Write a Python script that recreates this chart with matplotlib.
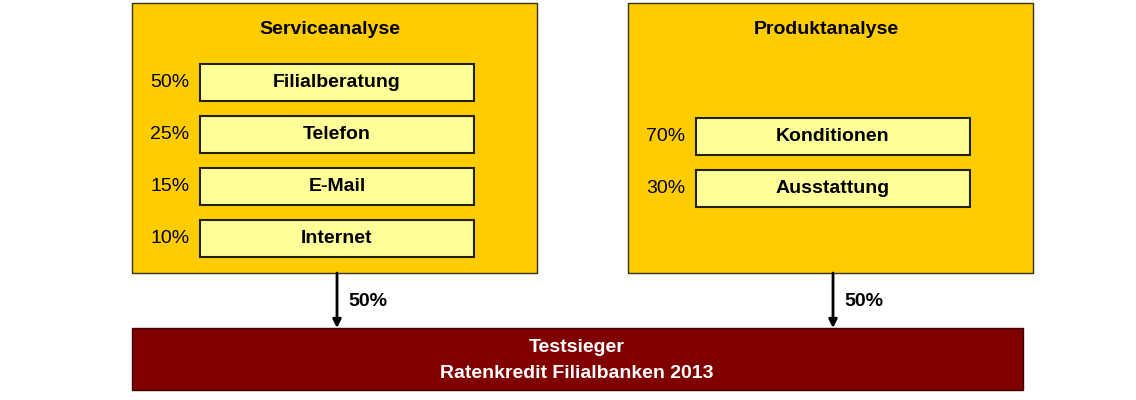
import matplotlib.pyplot as plt
from matplotlib.patches import Rectangle

service_items = ["Filialberatung", "Telefon", "E-Mail", "Internet"]
service_weights = ["50%", "25%", "15%", "10%"]
product_items = ["Konditionen", "Ausstattung"]
product_weights = ["70%", "30%"]
group_titles = ["Serviceanalyse", "Produktanalyse"]
group_weights = ["50%", "50%"]
result_lines = ["Testsieger", "Ratenkredit Filialbanken 2013"]

YELLOW = "#FFCC00"
LIGHT = "#FFFF99"
DARK_RED = "#800000"

fig = plt.figure(figsize=(11.36, 4.0), dpi=100)
ax = fig.add_axes([0, 0, 1, 1])
ax.set_xlim(0, 1136)
ax.set_ylim(400, 0)
ax.axis("off")

font = dict(family="Liberation Sans", fontweight="bold", fontsize=14)

groups = [
    (132, service_items, service_weights, 64),
    (628, product_items, product_weights, 118),
]
for (x0, items, weights, y_start), title, gw in zip(groups, group_titles, group_weights):
    ax.add_patch(Rectangle((x0, 3), 405, 270, facecolor=YELLOW,
                           edgecolor="#333300", lw=1))
    ax.text(x0 + 198, 29, title, ha="center", va="center", **font)
    for i, (name, w) in enumerate(zip(items, weights)):
        y = y_start + i * 52
        ax.add_patch(Rectangle((x0 + 68, y), 274, 37, facecolor=LIGHT,
                               edgecolor="#222200", lw=1.5))
        ax.text(x0 + 205, y + 18.5, name, ha="center", va="center", **font)
        ax.text(x0 + 38, y + 18.5, w, ha="center", va="center",
                family="Liberation Sans", fontsize=14)
    ax_x = x0 + 205
    ax.annotate("", xy=(ax_x, 328), xytext=(ax_x, 273),
                arrowprops=dict(arrowstyle="-|>", color="black", lw=2,
                                mutation_scale=12, shrinkA=0, shrinkB=0))
    ax.text(ax_x + 11, 301, gw, ha="left", va="center", **font)

ax.add_patch(Rectangle((132, 328), 891, 62, facecolor=DARK_RED,
                       edgecolor="#400000", lw=1))
ax.text(577, 348, result_lines[0], ha="center", va="center", color="white", **font)
ax.text(577, 374, result_lines[1], ha="center", va="center", color="white", **font)

fig.savefig("out.png", dpi=100)
